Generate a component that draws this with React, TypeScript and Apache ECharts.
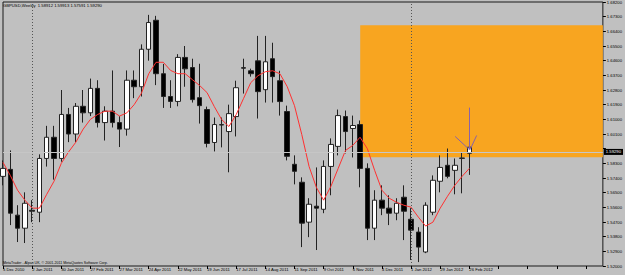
import React, { useEffect, useRef } from "react";
import * as echarts from "echarts";

const DATE_LABELS = ["5 Dec 2010","2 Jan 2011","30 Jan 2011","27 Feb 2011","27 Mar 2011","24 Apr 2011","22 May 2011","19 Jun 2011","17 Jul 2011","14 Aug 2011","11 Sep 2011","9 Oct 2011","6 Nov 2011","4 Dec 2011","1 Jan 2012","29 Jan 2012","26 Feb 2012"];

const OPEN = [1.5750,1.5793,1.5512,1.5432,1.5542,1.5530,1.5860,1.5990,1.5860,1.6130,1.6010,1.6180,1.6140,1.6290,1.6080,1.6150,1.6080,1.6040,1.6340,1.6300,1.6530,1.6708,1.6380,1.6240,1.6210,1.6480,1.6418,1.6233,1.6160,1.5958,1.6065,1.6025,1.6117,1.6417,1.6398,1.6459,1.6282,1.6472,1.6337,1.6148,1.5824,1.5714,1.5469,1.5567,1.5548,1.5811,1.5934,1.6117,1.6044,1.6068,1.5799,1.5432,1.5604,1.5555,1.5524,1.5622,1.5487,1.5408,1.5286,1.5530,1.5720,1.5818,1.5787,1.5860,1.58912];
const HIGH = [1.5848,1.5909,1.5573,1.5652,1.5604,1.5885,1.6060,1.6060,1.6280,1.6170,1.6200,1.6280,1.6350,1.6340,1.6180,1.6400,1.6120,1.6400,1.6400,1.6560,1.6741,1.6735,1.6440,1.6340,1.6500,1.6550,1.6472,1.6441,1.6178,1.6111,1.6111,1.6190,1.6337,1.6472,1.6411,1.6612,1.6612,1.6570,1.6398,1.6184,1.5879,1.5744,1.5616,1.5805,1.5848,1.5983,1.6160,1.6154,1.6123,1.6093,1.5830,1.5665,1.5695,1.5634,1.5616,1.5695,1.5555,1.5438,1.5591,1.5756,1.5879,1.5921,1.5860,1.5897,1.59913];
const LOW = [1.5695,1.5451,1.5347,1.5341,1.5469,1.5469,1.5810,1.5730,1.5840,1.5960,1.5960,1.6080,1.6120,1.6050,1.5970,1.6050,1.5930,1.6000,1.6230,1.6240,1.6460,1.6310,1.6170,1.6170,1.6180,1.6300,1.6203,1.6074,1.5928,1.5903,1.5928,1.5775,1.5995,1.6258,1.6362,1.6105,1.6203,1.6203,1.6123,1.5848,1.5701,1.5316,1.5377,1.5298,1.5524,1.5634,1.5879,1.5891,1.5866,1.5683,1.5359,1.5359,1.5512,1.5451,1.5481,1.5359,1.5237,1.5224,1.5279,1.5512,1.5652,1.5738,1.5640,1.5646,1.57591];
const CLOSE = [1.5799,1.5524,1.5432,1.5585,1.5536,1.5860,1.5990,1.5860,1.6130,1.6010,1.6180,1.6140,1.6290,1.6080,1.6150,1.6080,1.6040,1.6340,1.6300,1.6530,1.6694,1.6380,1.6240,1.6210,1.6480,1.6410,1.6221,1.6184,1.5952,1.6068,1.6068,1.6135,1.6294,1.6414,1.6380,1.6270,1.6453,1.6362,1.6209,1.5873,1.5781,1.5463,1.5579,1.5555,1.5811,1.5946,1.6123,1.6025,1.6062,1.5799,1.5432,1.5604,1.5555,1.5524,1.5585,1.5536,1.5420,1.5316,1.5573,1.5726,1.5805,1.5750,1.5818,1.5863,1.59290];
const MA = [1.5836,1.5756,1.5665,1.5604,1.5555,1.5555,1.5640,1.5720,1.5830,1.5900,1.5960,1.6040,1.6100,1.6130,1.6150,1.6150,1.6120,1.6140,1.6190,1.6260,1.6380,1.6450,1.6450,1.6400,1.6380,1.6380,1.6343,1.6307,1.6264,1.6178,1.6099,1.6056,1.6129,1.6227,1.6325,1.6368,1.6392,1.6398,1.6380,1.6301,1.6184,1.6007,1.5811,1.5683,1.5604,1.5689,1.5799,1.5909,1.5940,1.5990,1.5920,1.5787,1.5665,1.5616,1.5591,1.5573,1.5561,1.5500,1.5445,1.5469,1.5555,1.5628,1.5695,1.5750,1.5799];

const ZONE = { x0: 49.02, x1: 82.32, top: 1.6678, bottom: 1.5868 };
const BID = 1.5929;
const ARROW = [
  [[64, 1.6172], [64, 1.5914]],
  [[62.05, 1.5995], [64, 1.5914]],
  [[65.0, 1.6001], [64.1, 1.5914]],
];
const SEPARATORS = [4, 56];

const FONT = "Liberation Sans, Arial, sans-serif";

export default function App() {
  const ref = useRef<HTMLDivElement>(null);
  useEffect(() => {
    if (!ref.current) return;
    const chart = echarts.init(ref.current, null, { renderer: "svg" });
    const candles = OPEN.map((o, i) => [i, o, CLOSE[i], LOW[i], HIGH[i]]);
    const ma = MA.map((v, i) => [i, v]);
    chart.setOption({
      animation: false,
      backgroundColor: "#c0c0c0",
      textStyle: { fontFamily: FONT },
      grid: { left: 2, right: 19, top: 1, bottom: 9, show: true, borderColor: "#1a1a1a", borderWidth: 1, backgroundColor: "transparent" },
      xAxis: {
        type: "value", min: 0, max: 82.32, interval: 4,
        axisLine: { show: false }, splitLine: { show: false },
        axisTick: { show: true, length: 3, lineStyle: { color: "#000" } },
        axisLabel: {
          fontSize: 4.2, color: "#000", margin: 1, align: "left", showMinLabel: true, showMaxLabel: false,
          formatter: (v: number) => DATE_LABELS[Math.round(v / 4)] ?? "",
        },
      },
      yAxis: [
        { type: "value", min: 1.52, max: 1.682, show: false, position: "right" },
        {
          type: "value", min: 0, max: 18, interval: 1, position: "right",
          axisLine: { show: false }, splitLine: { show: false },
          axisTick: { show: true, length: 3, lineStyle: { color: "#000" } },
          axisLabel: { fontSize: 4.2, color: "#000", margin: 4, formatter: (v: number) => (v === 8 ? "" : (1.52 + v * 0.009).toFixed(5)) },
        },
      ],
      series: [
        {
          type: "line", yAxisIndex: 0, data: [], z: 1, silent: true,
          markArea: { silent: true, itemStyle: { color: "#f8a520" }, label: { show: false },
            data: [[{ coord: [ZONE.x0, ZONE.top] }, { coord: [ZONE.x1, ZONE.bottom] }]] },
        },
        {
          type: "line", yAxisIndex: 0, data: [], z: 2, silent: true,
          markLine: { silent: true, symbol: ["none", "none"], label: { show: false },
            lineStyle: { color: "#555", type: [1, 2], width: 1 },
            data: SEPARATORS.map((x) => ({ xAxis: x })) },
        },
        {
          type: "line", yAxisIndex: 0, data: [], z: 2, silent: true,
          markLine: { silent: true, symbol: ["none", "none"],
            lineStyle: { color: "#c6c6c6", type: "solid", width: 1 },
            label: { show: true, position: "end", distance: 1, formatter: BID.toFixed(5), color: "#fff", backgroundColor: "#000", fontSize: 4.2, padding: [1, 2], fontFamily: FONT },
            data: [{ yAxis: BID }] },
        },
        {
          type: "candlestick", yAxisIndex: 0, z: 3, barWidth: 5, data: candles,
          itemStyle: { color: "#ffffff", color0: "#000000", borderColor: "#222", borderColor0: "#222", borderWidth: 1 },
        },
        {
          type: "line", yAxisIndex: 0, z: 4, data: ma, symbol: "none", showSymbol: false,
          lineStyle: { color: "#ff3030", width: 1 },
          markLine: { silent: true, symbol: ["none", "none"], label: { show: false },
            lineStyle: { color: "#8a62a8", type: "solid", width: 1 },
            data: ARROW.map(([a, b]) => [{ coord: a }, { coord: b }]) },
        },
      ],
      graphic: [
        { type: "text", left: 3, top: 3, style: { text: "GBPUSD,Weekly  1.58912 1.59913 1.57591 1.59290", fontSize: 4.2, fill: "#000", fontFamily: FONT } },
        { type: "text", left: 3, top: 260.5, style: { text: "MetaTrader - Alpari UK, © 2001-2011 MetaQuotes Software Corp.", fontSize: 3.6, fill: "#000", fontFamily: FONT } },
        { type: "text", left: 383, top: 37.5, style: { text: "Obama zone", fontSize: 6, fill: "#ee2200", fontFamily: FONT } },
      ],
    });
    return () => chart.dispose();
  }, []);
  return <div ref={ref} style={{ position: "fixed", left: 0, top: 0, width: 625, height: 275 }} />;
}
